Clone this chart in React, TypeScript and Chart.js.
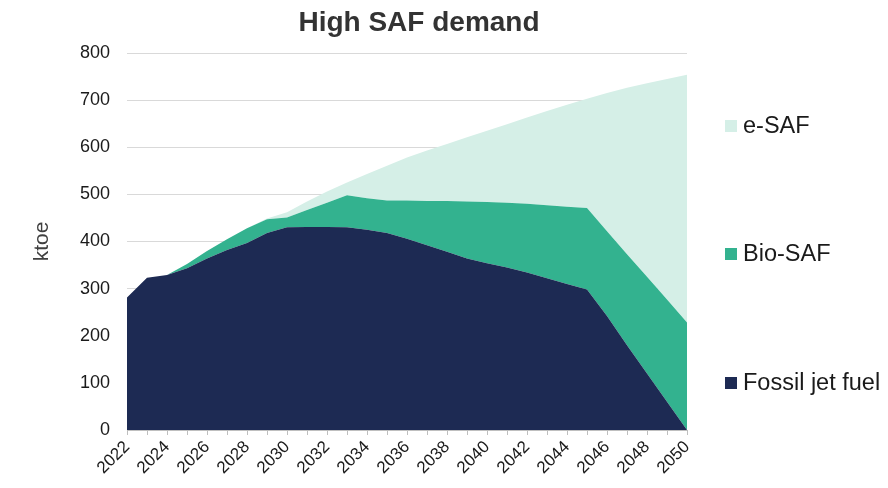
import React, { useEffect, useRef } from "react";
import { Chart, registerables } from "chart.js";

Chart.register(...registerables);

const years = [
  "2022", "2023", "2024", "2025", "2026", "2027", "2028", "2029", "2030", "2031",
  "2032", "2033", "2034", "2035", "2036", "2037", "2038", "2039", "2040", "2041",
  "2042", "2043", "2044", "2045", "2046", "2047", "2048", "2049", "2050",
];

const fossilJetFuel = [
  281, 323, 329, 343, 364, 382, 397, 418, 430, 431,
  431, 430, 425, 418, 406, 392, 378, 364, 354, 345,
  334, 322, 310, 298, 242, 180, 120, 60, 0,
];

const bioSAF = [
  0, 0, 0, 9, 16, 23, 31, 29, 21, 36,
  51, 68, 67, 69, 81, 94, 108, 121, 130, 137,
  146, 155, 164, 173, 180, 193, 205, 217, 228,
];

const eSAF = [
  0, 0, 0, 0, 0, 0, 0, 2, 11, 18,
  24, 27, 51, 74, 91, 107, 121, 136, 151, 167,
  183, 200, 216, 232, 293, 353, 411, 468, 526,
];

const yTicks = [0, 100, 200, 300, 400, 500, 600, 700, 800];

const chartTitle = "High SAF demand";
const yTitle = "ktoe";
const seriesNames = ["Fossil jet fuel", "Bio-SAF", "e-SAF"];
const seriesColors = ["#1d2a53", "#33b28f", "#d5efe7"];

const FONT = "'Liberation Sans', Arial, sans-serif";

export default function App() {
  const canvasRef = useRef<HTMLCanvasElement | null>(null);

  useEffect(() => {
    if (!canvasRef.current) return;

    const overlay = {
      id: "overlay",
      afterDraw(chart: any) {
        const ctx = chart.ctx as CanvasRenderingContext2D;
        const area = chart.chartArea;
        ctx.save();
        // Title
        ctx.fillStyle = "#333333";
        ctx.font = `bold 28px ${FONT}`;
        ctx.textAlign = "center";
        ctx.textBaseline = "middle";
        ctx.fillText(chartTitle, 419, 23);
        // Y title
        ctx.save();
        ctx.translate(42, (area.top + area.bottom) / 2);
        ctx.rotate(-Math.PI / 2);
        ctx.fillStyle = "#404040";
        ctx.font = `21px ${FONT}`;
        ctx.textAlign = "center";
        ctx.textBaseline = "middle";
        ctx.fillText(yTitle, 0, 0);
        ctx.restore();
        // Legend (top to bottom: e-SAF, Bio-SAF, Fossil)
        const items = [
          { name: seriesNames[2], color: seriesColors[2], y: 126 },
          { name: seriesNames[1], color: seriesColors[1], y: 254 },
          { name: seriesNames[0], color: seriesColors[0], y: 383 },
        ];
        ctx.font = `23.5px ${FONT}`;
        ctx.textAlign = "left";
        ctx.textBaseline = "middle";
        for (const it of items) {
          ctx.fillStyle = it.color;
          ctx.fillRect(725, it.y - 6, 12, 12);
          ctx.fillStyle = "#1a1a1a";
          ctx.fillText(it.name, 743, it.y + 1);
        }
        ctx.restore();
      },
    };

    const chart = new Chart(canvasRef.current, {
      type: "line",
      data: {
        labels: years,
        datasets: [
          {
            label: seriesNames[0],
            data: fossilJetFuel,
            backgroundColor: seriesColors[0],
            borderColor: seriesColors[0],
            borderWidth: 0,
            pointRadius: 0,
            fill: "origin",
            tension: 0,
          },
          {
            label: seriesNames[1],
            data: bioSAF,
            backgroundColor: seriesColors[1],
            borderColor: seriesColors[1],
            borderWidth: 0,
            pointRadius: 0,
            fill: "-1",
            tension: 0,
          },
          {
            label: seriesNames[2],
            data: eSAF,
            backgroundColor: seriesColors[2],
            borderColor: seriesColors[2],
            borderWidth: 0,
            pointRadius: 0,
            fill: "-1",
            tension: 0,
          },
        ],
      },
      options: {
        animation: false,
        responsive: true,
        maintainAspectRatio: false,
        layout: { padding: { top: 53, right: 201, bottom: 0, left: 0 } },
        plugins: {
          legend: { display: false },
          title: { display: false },
          tooltip: { enabled: false },
        },
        scales: {
          x: {
            type: "category",
            offset: false,
            afterFit(scale: any) {
              scale.height = 58;
            },
            grid: {
              drawOnChartArea: false,
              drawTicks: true,
              tickLength: 5,
              color: "#bfbfbf",
            },
            border: { display: true, color: "#bfbfbf", width: 1 },
            ticks: {
              autoSkip: false,
              maxRotation: 45,
              minRotation: 45,
              padding: 2,
              color: "#1a1a1a",
              font: { family: FONT, size: 17 },
              callback: (_v: any, i: number) => (i % 2 === 0 ? years[i] : ""),
            },
          },
          y: {
            stacked: true,
            min: 0,
            max: 800,
            afterFit(scale: any) {
              scale.width = 127;
            },
            afterBuildTicks(scale: any) {
              scale.ticks = yTicks.map((v) => ({ value: v }));
            },
            grid: { color: "#d9d9d9", lineWidth: 1, drawTicks: false },
            border: { display: false },
            ticks: {
              padding: 17,
              color: "#1a1a1a",
              font: { family: FONT, size: 18 },
            },
          },
        },
      },
      plugins: [overlay],
    });

    return () => chart.destroy();
  }, []);

  return (
    <div style={{ position: "fixed", left: 0, top: 0, width: 888, height: 488, background: "#fff" }}>
      <canvas ref={canvasRef} />
    </div>
  );
}
